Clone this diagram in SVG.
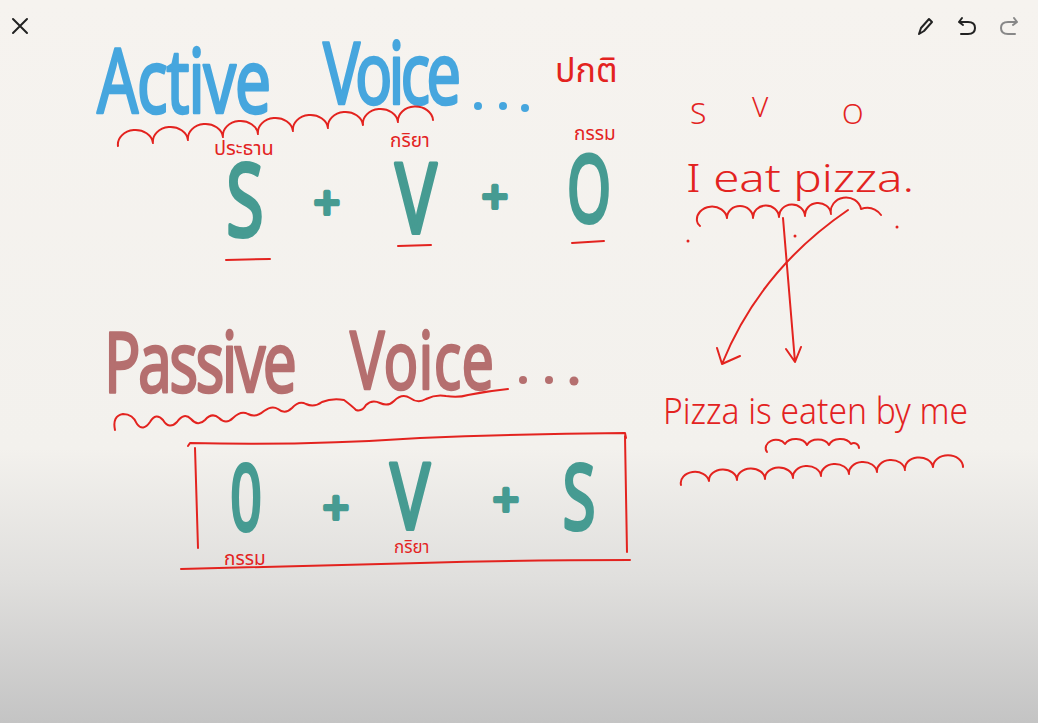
<svg xmlns="http://www.w3.org/2000/svg" width="1038" height="723" viewBox="0 0 1038 723">
<defs>
<linearGradient id="bg" x1="0" y1="0" x2="0" y2="723" gradientUnits="userSpaceOnUse">
<stop offset="0" stop-color="#f6f3ef"/>
<stop offset="0.62" stop-color="#f3f1ed"/>
<stop offset="0.8" stop-color="#e0dfdd"/>
<stop offset="1" stop-color="#c4c4c4"/>
</linearGradient>
</defs>
<style>
.blue{font-family:"Noto Sans","DejaVu Sans",sans-serif;fill:#46a6de;stroke:#46a6de;stroke-width:2.5;stroke-linejoin:round}
.rose{font-family:"Noto Sans","DejaVu Sans",sans-serif;fill:#b56f6f;stroke:#b56f6f;stroke-width:2.5;stroke-linejoin:round}
.teal{font-family:"Noto Sans","DejaVu Sans",sans-serif;fill:#469b92;stroke:#469b92;stroke-width:4;stroke-linejoin:round;text-anchor:middle}
.hand{font-family:"Noto Sans","DejaVu Sans",sans-serif;fill:#e3231f;font-weight:300}
.thai{font-family:"Noto Sans Thai","Noto Sans","DejaVu Sans",sans-serif;fill:#e3231f}
.ink{fill:none;stroke:#e3231f;stroke-width:2;stroke-linecap:round;stroke-linejoin:round}
.icon{fill:none;stroke:#222;stroke-width:2;stroke-linecap:round;stroke-linejoin:round}
</style>
<rect width="1038" height="723" fill="url(#bg)"/>

<g id="toolbar">
<path class="icon" d="M13,19 L27,33 M27,19 L13,33"/>
<path class="icon" d="M919,34 L921,28 L929,19 L932,22 L924,31 Z"/>
<path class="icon" d="M962,18 L959,22 L963,25 M959,22 L968,22 Q975,22 975,28 Q975,34 968,34 L961,34"/>
<path class="icon" style="stroke:#888" d="M1014,18 L1017,22 L1013,25 M1017,22 L1008,22 Q1001,22 1001,28 Q1001,34 1008,34 L1015,34"/>
</g>

<g id="active-title">
<text class="blue" transform="translate(97,113) scale(0.72,1)" font-size="90" textLength="242" lengthAdjust="spacing">Active</text>
<text class="blue" transform="translate(323,104) scale(0.72,1)" font-size="86" textLength="192" lengthAdjust="spacing">Voice</text>
<circle cx="478" cy="106" r="4" fill="#46a6de"/>
<circle cx="503" cy="106" r="4" fill="#46a6de"/>
<circle cx="525" cy="108" r="4" fill="#46a6de"/>
<path class="ink" d="M118,146 a17,14 0 0 1 35,-3 a17,14 0 0 1 35,-3 a17,14 0 0 1 35,-3 a17,14 0 0 1 35,-3 a17,14 0 0 1 35,-3 a17,14 0 0 1 35,-3 a17,14 0 0 1 35,-3 a17,14 0 0 1 35,-3 a17,14 0 0 1 35,-2"/>
<text class="thai" x="555" y="82" font-size="34">ปกติ</text>
</g>

<g id="active-formula">
<text class="thai" x="214" y="155" font-size="20">ประธาน</text>
<text class="thai" x="390" y="147" font-size="19">กริยา</text>
<text class="thai" x="574" y="140" font-size="19">กรรม</text>
<text class="teal" transform="translate(245,236) scale(0.68,1)" font-size="100">S</text>
<text class="teal" x="327" y="219" font-size="46">+</text>
<text class="teal" transform="translate(416,233) scale(0.72,1)" font-size="96">V</text>
<text class="teal" x="495" y="213" font-size="46">+</text>
<text class="teal" transform="translate(589,222) scale(0.6,1)" font-size="94">O</text>
<path class="ink" d="M226,260 L270,259 M398,246 L431,245 M572,243 L604,241"/>
</g>

<g id="passive-title">
<text class="rose" transform="translate(104,392) scale(0.72,1)" font-size="84" textLength="268" lengthAdjust="spacing">Passive</text>
<text class="rose" transform="translate(350,389) scale(0.72,1)" font-size="80" textLength="200" lengthAdjust="spacing">Voice</text>
<circle cx="523" cy="380" r="4" fill="#b56f6f"/>
<circle cx="549" cy="380" r="4" fill="#b56f6f"/>
<circle cx="574" cy="381" r="4.5" fill="#b56f6f"/>
<path class="ink" d="M115,430 q-3,-14 8,-16 q10,0 14,10 q6,8 13,-2 q6,-10 13,-2 q6,10 14,2 q7,-10 14,-3 q7,8 14,1 q7,-8 14,-2 q7,7 14,0 q8,-8 15,-4 q8,4 16,-3 q8,-6 14,-2 q7,6 14,-1 q7,-8 14,-4 q8,4 16,-2 q10,-4 22,-2 q8,6 12,10 q6,2 10,-5 q6,-6 14,-2 q8,4 14,-2 q8,-8 16,-3 q8,6 16,1 q10,-5 20,-3 q12,2 22,-1 q20,-4 40,-6"/>
</g>

<g id="passive-box">
<path class="ink" d="M188,446 L190,443 Q300,446 420,438 Q520,434 625,433 L626,438 M195,448 L198,548 M625,436 L627,552 M181,569 Q300,566 420,563 Q530,560 630,560"/>
<text class="teal" transform="translate(246,530) scale(0.6,1)" font-size="92">0</text>
<text class="teal" x="336" y="524" font-size="46">+</text>
<text class="teal" transform="translate(410,529) scale(0.72,1)" font-size="92">V</text>
<text class="teal" x="506" y="516" font-size="46">+</text>
<text class="teal" transform="translate(579,529) scale(0.66,1)" font-size="90">S</text>
<text class="thai" x="224" y="565" font-size="19">กรรม</text>
<text class="thai" x="394" y="553" font-size="17">กริยา</text>
</g>

<g id="active-example">
<text class="hand" x="690" y="124" font-size="30">S</text>
<text class="hand" x="752" y="117" font-size="28">V</text>
<text class="hand" x="842" y="124" font-size="28">O</text>
<text class="hand" x="686" y="192" font-size="38" textLength="228" lengthAdjust="spacingAndGlyphs">I  eat  pizza.</text>
<path class="ink" d="M700,226 a7,7 0 0 1 -3,-5 a14,12 0 0 1 30,-3 a13,12 0 0 1 26,0 a13,12 0 0 1 26,-1 a13,12 0 0 1 26,-1 a13,12 0 0 1 26,-2 a13,12 0 0 1 30,-5 q12,-4 20,6"/>
<circle cx="688" cy="241" r="1.5" fill="#e3231f"/>
<circle cx="795" cy="236" r="1.5" fill="#e3231f"/>
<circle cx="897" cy="227" r="1.5" fill="#e3231f"/>
</g>

<g id="connectors">
<path class="ink" d="M783,218 L795,362 M786,349 L795,362 L801,347"/>
<path class="ink" d="M848,210 Q760,270 722,364 M717,348 L722,364 L740,356"/>
</g>

<g id="passive-example">
<text class="hand" x="663" y="424" font-size="36" textLength="305" lengthAdjust="spacingAndGlyphs">Pizza is eaten by me</text>
<path class="ink" d="M767,452 a10,8 0 0 1 18,-8 a12,9 0 0 1 22,1 a12,9 0 0 1 22,0 a12,9 0 0 1 22,-1 a5,5 0 0 1 8,4"/>
<path class="ink" d="M681,485 a14,11 0 0 1 28,-4 a14,11 0 0 1 28,-1 a14,11 0 0 1 28,-1 a14,11 0 0 1 28,-1 a14,11 0 0 1 28,-2 a14,11 0 0 1 28,-2 a14,11 0 0 1 28,-2 a14,11 0 0 1 28,-2 a14,11 0 0 1 28,-3 a14,11 0 0 1 30,0"/>
</g>
</svg>
